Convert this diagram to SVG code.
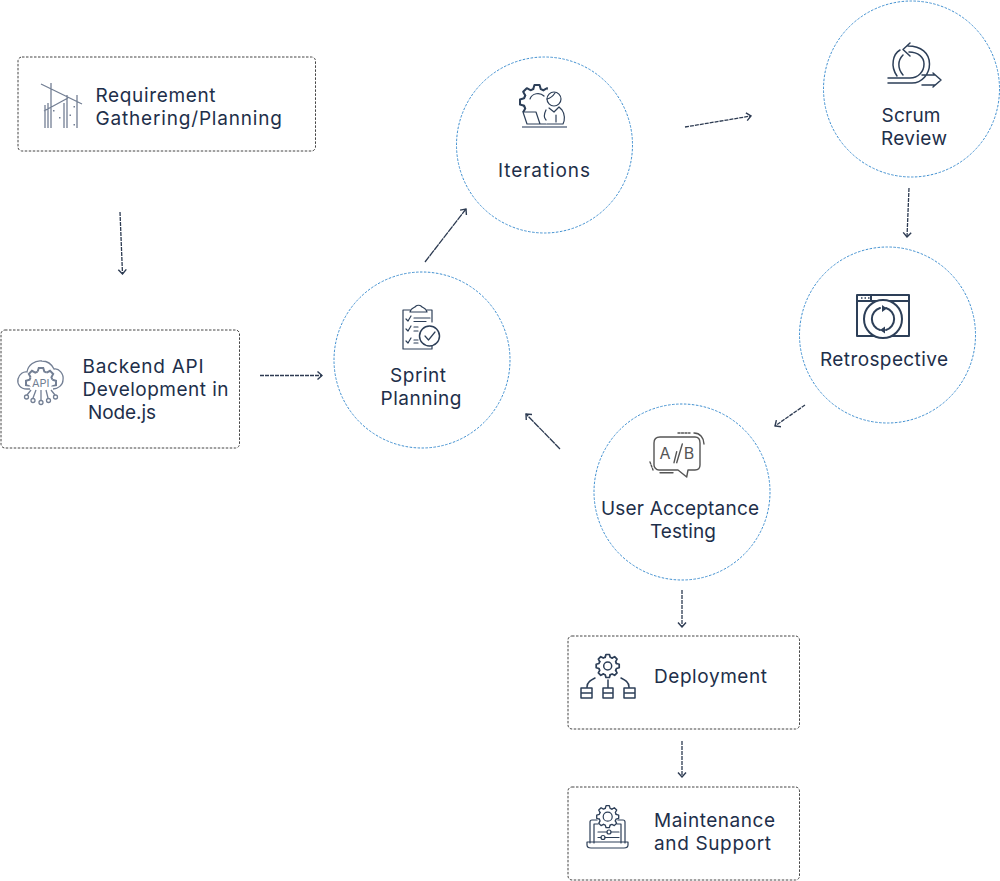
<svg xmlns="http://www.w3.org/2000/svg" width="1000" height="881" viewBox="0 0 1000 881">
<style>
.box{fill:#fff;stroke:#444;stroke-width:1;stroke-dasharray:2.500 1.500}
.circ{fill:#fff;stroke:#3f8fd0;stroke-width:1;stroke-dasharray:2.500 1.500}
.t{font-family:"Inter","Liberation Sans",sans-serif;font-size:19px;fill:#1e2f4a;font-weight:400}
.m{text-anchor:middle}
.i{fill:none;stroke:#2d3f58;stroke-width:1.500;stroke-linejoin:round;stroke-linecap:round;vector-effect:non-scaling-stroke}
.i1{stroke-width:1.200}
.i2{stroke-width:2}
.w{fill:#fff}
.g{fill:none;stroke:#737f94;stroke-width:1.300;vector-effect:non-scaling-stroke}
.u{fill:none;stroke:#555;stroke-width:1.400;stroke-linecap:round;stroke-linejoin:round}
.d{stroke-dasharray:2 1.500}
.c{fill:none;stroke:#2d3b52;stroke-width:1.300;stroke-dasharray:4 1;marker-end:url(#a)}
.s{fill:none;stroke:#2d3b52;stroke-width:1.300;stroke-dasharray:7 .6;marker-end:url(#a)}
</style>
<defs>
<marker id="a" viewBox="0 0 10 10" refX="9" refY="5" markerWidth="10" markerHeight="10" markerUnits="userSpaceOnUse" orient="auto"><path d="M4.500 1L9 5L4.500 9" fill="none" stroke="#2d3b52" stroke-width="1.400"/></marker>
<path id="tooth" d="M-2.200-7.600L-1.500-10H1.500L2.200-7.600L3.820-6.930"/>
<g id="gear">
<use href="#tooth"/><use href="#tooth" transform="rotate(45)"/><use href="#tooth" transform="rotate(90)"/><use href="#tooth" transform="rotate(135)"/><use href="#tooth" transform="rotate(180)"/><use href="#tooth" transform="rotate(225)"/><use href="#tooth" transform="rotate(270)"/><use href="#tooth" transform="rotate(315)"/>
</g>
<clipPath id="cpi"><path d="M515 80H550L547 92L543 104L541 112L536 112L520 112H515Z"/></clipPath>
<clipPath id="cpb"><path d="M20 365H62V386.500H20Z"/></clipPath>
</defs>
<g id="connectors">
<path class="c" d="M120 212L122.500 274"/>
<path class="c" d="M260 375.500H322"/>
<path class="s" d="M425 262L466 209"/>
<path class="c" d="M685 127L751 116"/>
<path class="c" d="M909 188L907 237"/>
<path class="c" d="M805 405L775 426"/>
<path class="s" d="M560 449L526 414"/>
<path class="c" d="M682 590V627"/>
<path class="c" d="M682 741V777"/>
</g>
<g id="requirement">
<rect class="box" x="18" y="57" width="297.500" height="94" rx="4"/>
<path class="g" d="M41 84L82 104M51 83V128M44 111L68 98M48 103V128M45 105V128M67 95V128M64 103V128M77 95V128"/>
<path d="M53 110h1.500v1.500h-1.500zM59 117h1.500v1.500h-1.500zM69.500 114.500h1.500v1.500h-1.500zM73.500 124h1.500v1.500h-1.500zM73.500 106h1.500v1.500h-1.500z" fill="#737f94"/>
<text class="t" x="95.500" y="102" textLength="120" lengthAdjust="spacing">Requirement</text>
<text class="t" x="95.500" y="125" textLength="186.500" lengthAdjust="spacing">Gathering/Planning</text>
</g>
<g id="backend">
<rect class="box" x="1" y="330" width="238.500" height="118" rx="4"/>
<path class="g" d="M30 389H27C20 389 17 384 18 379C19 374 24 371 27 372C28 365 35 360 42 361C48 361 52 365 54 369C59 368 64 374 63 380C63 385 58 389 53 389"/>
<g clip-path="url(#cpb)"><use href="#gear" class="g" transform="translate(41 383) scale(1.500)"/></g>
<path class="g" d="M31 390L27 395M36 390L33 398M41 390V400M46 390L48 398M51 390L55 395"/>
<circle class="g" cx="26.500" cy="397" r="2"/><circle class="g" cx="33" cy="400.500" r="2"/><circle class="g" cx="41" cy="402.500" r="2"/><circle class="g" cx="48.500" cy="400.500" r="2"/><circle class="g" cx="55.500" cy="397" r="2"/>
<text x="40.700" y="387" font-family="Inter,sans-serif" font-size="11" fill="#737f94" text-anchor="middle">API</text>
<text class="t" x="82.500" y="373" textLength="121" lengthAdjust="spacing">Backend API</text>
<text class="t" x="82.500" y="396" textLength="146" lengthAdjust="spacing">Development in</text>
<text class="t" x="88" y="419" textLength="68" lengthAdjust="spacing">Node.js</text>
</g>
<g id="sprint">
<circle class="circ" cx="422" cy="360" r="88"/>
<path class="i i1" d="M410 310H403V349H432V346M427 310H432V322"/>
<path class="i i1" d="M410 312C411 307 415 308 416 306C417 305 420 305 421 306C422 308 426 307 427 312Z"/>
<circle class="i" cx="429.500" cy="336" r="10"/>
<path class="i i1" d="M425 336L428.500 340L435 332M406 319L408 321L411 316M406 329L408 331L411 326M406 341L408 343L411 338M414 318H430M414 321.500H426M414 327H418M414 331H418M414 340H418M414 343H418"/>
<text class="t m" x="418" y="382" textLength="56" lengthAdjust="spacing">Sprint</text>
<text class="t m" x="421" y="405" textLength="81" lengthAdjust="spacing">Planning</text>
</g>
<g id="iterations">
<circle class="circ" cx="544.500" cy="145" r="88"/>
<g clip-path="url(#cpi)"><use href="#gear" class="i i1" transform="translate(537 102) scale(1.700)"/></g>
<path class="i i1" d="M530 99C532 93 540 92 544 96"/>
<circle class="i i1" cx="554" cy="99" r="7"/>
<path class="i i1" d="M547 99C551 98 553 96 555 93M546 110C544 114 544 118 546 120M547 124H563C565 120 565 114 562 110L559 107M549 108L554 112L559 107M556 115V122"/>
<path class="i i1" d="M523 112H536L540 124H527ZM540 124H546"/>
<path d="M522 127H567" stroke="#67748a" stroke-width="1.500"/>
<text class="t m" x="544" y="177" textLength="92" lengthAdjust="spacing">Iterations</text>
</g>
<g id="scrum">
<circle class="circ" cx="911.500" cy="89" r="88"/>
<path class="i" d="M888 83H912C922 83 929.500 74 929.500 64C929.500 53 921 46 908 46M888 78H910C918 78 924 72 924 64C924 57 918 52 909 52M910 43L903 49.500L910 56M900 50C893 54 890 66 897 76M903 55C898 60 897 68 903 75M922 75H935M922 85H935M933 73L941 80L933 87"/>
<text class="t m" x="911" y="122" textLength="59" lengthAdjust="spacing">Scrum</text>
<text class="t m" x="914" y="145" textLength="66" lengthAdjust="spacing">Review</text>
</g>
<g id="retrospective">
<circle class="circ" cx="887.500" cy="335" r="88"/>
<path class="i i2" d="M857 295H909V336H857ZM857 301H909M871 295V301"/>
<path d="M861 298h1.500M864.500 298h1.500M868 298h1.500" stroke="#2d3f58" stroke-width="1.500"/>
<circle class="i i2 w" cx="883" cy="319" r="19"/>
<path class="i i2" d="M886 308A11.500 11.500 0 0 1 886 330M880 330A11.500 11.500 0 0 1 880 308"/>
<path d="M882 305L887 308.500L882 312ZM885 326.500L880 330L885 333.500Z" fill="#2d3f58"/>
<text class="t m" x="884" y="366" textLength="128" lengthAdjust="spacing">Retrospective</text>
</g>
<g id="uat">
<circle class="circ" cx="682" cy="492" r="88"/>
<path class="u" d="M678 470H659C656 470 654 467 654 465V443C654 439 656 437 660 437H695C698 437 700 439 700 443V465C700 468 698 470 695 470H688L686.700 477L678 470"/>
<path class="u d" d="M678 433H690M650 462L653 470"/>
<path class="u" d="M694 433C700 433 704 438 704 444M660 472.700H673"/>
<text x="665" y="459" font-family="Inter,sans-serif" font-size="16" fill="#555" text-anchor="middle">A</text>
<text x="689" y="459" font-family="Inter,sans-serif" font-size="16" fill="#555" text-anchor="middle">B</text>
<path class="u" d="M674 462.700L676.700 451.700M676.700 462.700L682.300 444"/>
<text class="t m" x="680" y="515" textLength="158" lengthAdjust="spacing">User Acceptance</text>
<text class="t m" x="683" y="538" textLength="66" lengthAdjust="spacing">Testing</text>
</g>
<g id="deployment">
<rect class="box" x="568" y="636" width="231.500" height="93" rx="4"/>
<use href="#gear" class="i" transform="translate(607.700 666) scale(1.150)"/>
<circle class="i" cx="607.700" cy="666" r="4"/>
<path class="i" d="M581 688H592V698H581ZM581 693H592M603 688H613V698H603ZM603 693H613M624 688H635V698H624ZM624 693H635M587 687C587 682 591 680 595 678M608 680V687M621 678C625 680 629 682 629 687"/>
<text class="t" x="654" y="683" textLength="113" lengthAdjust="spacing">Deployment</text>
</g>
<g id="maintenance">
<rect class="box" x="568" y="787" width="231.500" height="93" rx="4"/>
<path class="i i1" d="M590 843V822Q590 820 592 820H597M618 820H623Q625 820 625 822V843M594 843V824H598M617 824H621V843"/>
<path class="i i1" d="M587 842H628V845Q628 848 624 848H591Q587 848 587 845Z"/>
<use href="#gear" class="i i1" transform="translate(607.700 816.700) scale(1.100)"/>
<circle class="i i1" cx="607.700" cy="816.700" r="4.500"/>
<path class="i i1" d="M598 832H607M611 832H619M598 837.500H601M605 837.500H619"/>
<circle class="i i1" cx="609" cy="832" r="2"/><circle class="i i1" cx="603" cy="837.500" r="2"/>
<text class="t" x="654" y="827" textLength="121" lengthAdjust="spacing">Maintenance</text>
<text class="t" x="654" y="850" textLength="117" lengthAdjust="spacing">and Support</text>
</g>
</svg>
